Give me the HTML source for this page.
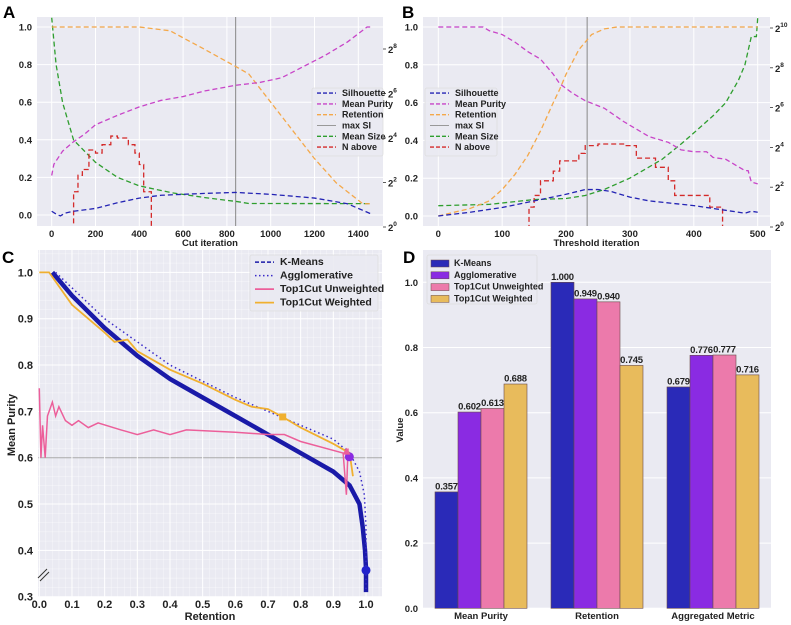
<!DOCTYPE html>
<html><head><meta charset="utf-8">
<style>
html,body{margin:0;padding:0;background:#fff;}
svg{display:block;font-family:"Liberation Sans",sans-serif;}
.tk{font-size:9.5px;font-weight:bold;fill:#222;}
.tkc{font-size:11px;font-weight:bold;fill:#222;}
.lg{font-size:9px;font-weight:bold;fill:#222;}
.lgc{font-size:10.5px;font-weight:bold;fill:#222;}
.pl{font-size:17px;font-weight:bold;fill:#000;}
</style></head>
<body>
<svg id="chart" width="791" height="625" viewBox="0 0 791 625" xmlns="http://www.w3.org/2000/svg">
<defs>
<clipPath id="clipA"><rect x="37" y="17" width="346" height="209"/></clipPath>
<clipPath id="clipB"><rect x="423" y="17" width="347" height="209"/></clipPath>
<clipPath id="clipC"><rect x="38" y="250" width="344" height="347"/></clipPath>
</defs>
</svg>
<script>
// ---------- Panel A data ----------
const aSilX=[0,20,40,60,100,200,300,400,500,600,700,840,1000,1200,1350,1460];
const aSilY=[0.02,0.005,-0.005,0.01,0.02,0.035,0.065,0.09,0.105,0.11,0.115,0.12,0.11,0.09,0.06,0.005];
const aPurX=[0,10,50,100,150,200,300,400,500,600,700,840,950,1050,1150,1250,1350,1440,1460];
const aPurY=[0.21,0.27,0.34,0.39,0.43,0.48,0.53,0.575,0.61,0.63,0.66,0.69,0.705,0.73,0.79,0.85,0.92,1.0,1.0];
const aRetX=[0,400,540,700,840,900,1000,1100,1200,1300,1420,1460];
const aRetY=[1.0,1.0,0.98,0.88,0.79,0.75,0.6,0.45,0.3,0.17,0.06,0.06];
const aSizeX=[0,20,50,100,200,300,400,550,700,850,900,1460];
const aSizeY=[680,158,48,15,7.5,4.7,3.6,2.9,2.5,2.2,2.08,2.07];
const aNX=[80,90,100,120,140,170,200,230,270,300,350,380,400,420,445,455];
const aNY=[1,1,3,5,6,11,10,13,17,16,13,10,7,3,3,1];
const aMaxSI=840;
const aXTicks=[0,200,400,600,800,1000,1200,1400];
const aYTicks=[0,0.2,0.4,0.6,0.8,1.0];
const aRTicks=[0,2,4,6,8];
// ---------- Panel B data ----------
const bSilX=[0,50,100,150,200,230,250,270,300,330,400,450,480,490,500];
const bSilY=[0,0.02,0.045,0.08,0.115,0.14,0.14,0.13,0.1,0.08,0.055,0.03,0.015,0.025,0.02];
const bPurX=[0,70,80,100,120,140,160,180,190,210,230,260,290,310,330,360,380,400,420,430,450,470,480,485,490,500];
const bPurY=[1.0,1.0,0.98,0.96,0.92,0.87,0.83,0.75,0.7,0.65,0.61,0.57,0.5,0.46,0.42,0.39,0.35,0.34,0.34,0.31,0.3,0.26,0.24,0.24,0.18,0.17];
const bRetX=[0,50,80,100,120,140,160,180,190,200,220,240,260,280,500];
const bRetY=[0,0.04,0.08,0.14,0.22,0.32,0.45,0.6,0.67,0.75,0.88,0.96,0.99,1.0,1.0];
const bSizeX=[0,80,150,200,230,260,300,350,380,400,430,450,470,480,490,498,500];
const bSizeY=[2.1,2.2,2.6,2.7,3.0,3.7,5.5,10.5,18,26.5,48,76,167,284,760,760,1450];
const bNX=[100,140,142,150,160,180,190,200,220,230,250,270,290,310,330,340,360,370,420,425,440,445,460];
const bNY=[1,1,2,3,5,7,10,10,13,17,18,18,17,11,11,8,5,3,3,2,2,1,1];
const bMaxSI=233;
const bXTicks=[0,100,200,300,400,500];
const bYTicks=[0,0.2,0.4,0.6,0.8,1.0];
const bRTicks=[0,2,4,6,8,10];
// ---------- Panel C data ----------
const cKmX=[0.04,0.1,0.2,0.3,0.4,0.5,0.6,0.7,0.8,0.9,0.95,0.98,0.99,0.997,1.0,1.0];
const cKmY=[1.0,0.95,0.88,0.82,0.77,0.73,0.69,0.65,0.61,0.57,0.54,0.5,0.45,0.4,0.36,0.31];
const cAgX=[0.05,0.2,0.4,0.6,0.8,0.9,0.95,0.98,0.995,1.0,1.0];
const cAgY=[1.0,0.9,0.8,0.73,0.67,0.64,0.61,0.57,0.52,0.45,0.31];
const cUwX=[0,0.005,0.01,0.018,0.025,0.04,0.05,0.06,0.08,0.1,0.12,0.15,0.18,0.25,0.3,0.35,0.4,0.45,0.6,0.7,0.75,0.8,0.93,0.94,0.945];
const cUwY=[0.75,0.6,0.67,0.6,0.69,0.72,0.69,0.71,0.68,0.67,0.68,0.665,0.675,0.66,0.65,0.66,0.65,0.66,0.655,0.65,0.65,0.635,0.61,0.52,0.62];
const cWX=[0,0.03,0.05,0.1,0.15,0.2,0.23,0.27,0.3,0.4,0.5,0.6,0.65,0.7,0.745,0.8,0.9,0.95,0.96];
const cWY=[1.0,1.0,0.98,0.93,0.9,0.87,0.85,0.855,0.83,0.79,0.76,0.725,0.71,0.705,0.688,0.665,0.63,0.61,0.56];
const cMarkX=[1.0,0.949,0.94,0.745];
const cMarkY=[0.357,0.602,0.613,0.688];
const cXTicks=[0,0.1,0.2,0.3,0.4,0.5,0.6,0.7,0.8,0.9,1.0];
const cYTicks=[0.3,0.4,0.5,0.6,0.7,0.8,0.9,1.0];
// ---------- Panel D data ----------
const dGroups=["Mean Purity","Retention","Aggregated Metric"];
const dMethods=["K-Means","Agglomerative","Top1Cut Unweighted","Top1Cut Weighted"];
const dKm=[0.357,1.000,0.679];
const dAg=[0.602,0.949,0.776];
const dUw=[0.613,0.940,0.777];
const dW=[0.688,0.745,0.716];
const dYTicks=[0,0.2,0.4,0.6,0.8,1.0];

const NS="http://www.w3.org/2000/svg";
const svg=document.getElementById('chart');
function mk(tag,attrs,parent){const e=document.createElementNS(NS,tag);for(const k in attrs)e.setAttribute(k,attrs[k]);(parent||svg).appendChild(e);return e;}
function pathD(xs,ys,fx,fy,step){let d="";for(let i=0;i<xs.length;i++){const X=fx(xs[i]),Y=fy(ys[i]);if(i===0)d+="M"+X+","+Y;else{if(step)d+="H"+X+"V"+Y;else d+="L"+X+","+Y;}}return d;}

const BG="#eaeaf2";
const cBlue="#2424b4",cMag="#c845c8",cOr="#f4a84a",cGreen="#2e9e2e",cRed="#d42a2a",cGrey="#888";

const xA=v=>51.7+v*0.2190, yA=v=>215-v*188, yAr=s=>227-Math.log2(s)*22.25;
const xB=v=>438.3+v*0.6388, yB=v=>216-v*189, yBr=s=>227-Math.log2(s)*19.9;
const xC=v=>39.3+v*326.7, yC=v=>596.7-(v-0.3)*463.3;
const yD=v=>608.3-v*326;

function lineLegend(x,y,w,h,items,cls,rowH,panel){
  const g=mk('g',{});
  
  
  const r=mk('rect',{x:x,y:y,width:w,height:h,fill:BG,stroke:"#ddd","stroke-width":0.8,rx:2,opacity:0.9},g);
  
  
  items.forEach((it,i)=>{
    const yy=y+rowH*0.75+i*rowH;
    const ln=mk('line',{x1:x+5,x2:x+24,y1:yy-3,y2:yy-3,stroke:it.c,"stroke-width":it.w||1.4,"stroke-dasharray":it.d||"none"},g);
    
    
    const t=mk('text',{x:x+30,y:yy,class:cls},g);t.textContent=it.n;
    
    
  });
}
function drawTS(p){
  const g=mk('g',{});
  
  
  const bg=mk('rect',{x:p.rx,y:p.ry,width:p.rw,height:p.rh,fill:BG},g);
  
  
  p.yT.forEach(v=>{
    const l=mk('line',{x1:p.rx,x2:p.rx+p.rw,y1:p.fy(v),y2:p.fy(v),stroke:"#fff","stroke-width":1},g);
    
    
    const t=mk('text',{x:p.rx-5,y:p.fy(v)+3.5,"text-anchor":"end",class:"tk"},g);t.textContent=v.toFixed(1);
    
    
  });
  p.xT.forEach(v=>{
    const l=mk('line',{x1:p.fx(v),x2:p.fx(v),y1:p.ry,y2:p.ry+p.rh,stroke:"#fff","stroke-width":1},g);
    
    
    const t=mk('text',{x:p.fx(v),y:p.ry+p.rh+11,"text-anchor":"middle",class:"tk"},g);t.textContent=String(v);
    
    
  });
  p.rT.forEach(e=>{
    const yy=p.fr(Math.pow(2,e));
    const tk=mk('line',{x1:p.rx+p.rw,x2:p.rx+p.rw+3,y1:yy,y2:yy,stroke:"#333","stroke-width":0.8},g);
    
    
    const t=mk('text',{x:p.rx+p.rw+5,y:yy+4,class:"tk"},g);t.textContent="2";
    
    
    const s=mk('tspan',{dy:-5,"font-size":"6.5px"},t);s.textContent=String(e);
  });
  const xl=mk('text',{x:p.rx+p.rw/2,y:p.ry+p.rh+20,"text-anchor":"middle",class:"tk","font-size":"10.5px"},g);xl.textContent=p.xl;
  
  
  const cg=mk('g',{"clip-path":"url(#"+p.clip+")",fill:"none"},g);
  const vl=mk('line',{x1:p.fx(p.maxSI),x2:p.fx(p.maxSI),y1:p.ry,y2:p.ry+p.rh,stroke:cGrey,"stroke-width":1},cg);
  
  
  const series=[
    ['mean-size-line',p.sizeX,p.sizeY,p.fr,cGreen,false],
    ['n-above-line',p.nX,p.nY,p.fr,cRed,true],
    ['retention-line',p.retX,p.retY,p.fy,cOr,false],
    ['mean-purity-line',p.purX,p.purY,p.fy,cMag,false],
    ['silhouette-line',p.silX,p.silY,p.fy,cBlue,false]];
  series.forEach(s=>{
    const pa=mk('path',{d:pathD(s[1],s[2],p.fx,s[3],s[5]),stroke:s[4],"stroke-width":1.3,"stroke-dasharray":"5,3",fill:"none"},cg);
    
    
  });
  lineLegend(p.lgx,88,p.lgw,68,[
    {n:"Silhouette",c:cBlue,d:"4,2"},{n:"Mean Purity",c:cMag,d:"4,2"},{n:"Retention",c:cOr,d:"4,2"},
    {n:"max SI",c:"#999",w:1},{n:"Mean Size",c:cGreen,d:"4,2"},{n:"N above",c:cRed,d:"4,2"}],"lg",10.8,'panel-'+p.id);
}
drawTS({id:'a',rx:37,ry:17,rw:346,rh:209,fx:xA,fy:yA,fr:yAr,xT:aXTicks,yT:aYTicks,rT:aRTicks,xl:"Cut iteration",clip:"clipA",
  maxSI:aMaxSI,silX:aSilX,silY:aSilY,purX:aPurX,purY:aPurY,retX:aRetX,retY:aRetY,sizeX:aSizeX,sizeY:aSizeY,nX:aNX,nY:aNY,lgx:312,lgw:71});
drawTS({id:'b',rx:423,ry:17,rw:347,rh:209,fx:xB,fy:yB,fr:yBr,xT:bXTicks,yT:bYTicks,rT:bRTicks,xl:"Threshold iteration",clip:"clipB",
  maxSI:bMaxSI,silX:bSilX,silY:bSilY,purX:bPurX,purY:bPurY,retX:bRetX,retY:bRetY,sizeX:bSizeX,sizeY:bSizeY,nX:bNX,nY:bNY,lgx:425,lgw:72});

(function(){
  const g=mk('g',{});
  
  
  const bg=mk('rect',{x:38,y:250,width:344,height:347,fill:BG},g);
  
  
  for(let v=0;v<=1.05;v+=0.02){
    const l=mk('line',{x1:xC(v),x2:xC(v),y1:250,y2:597,stroke:"#fff","stroke-width":0.5,opacity:0.6},g);
    
    
  }
  for(let v=0.3;v<=1.05;v+=0.02){
    const l=mk('line',{x1:38,x2:382,y1:yC(v),y2:yC(v),stroke:"#fff","stroke-width":0.5,opacity:0.6},g);
    
    
  }
  cYTicks.forEach(v=>{
    const l=mk('line',{x1:38,x2:382,y1:yC(v),y2:yC(v),stroke:(Math.abs(v-0.6)<1e-6?"#aaa":"#fff"),"stroke-width":1},g);
    
    
    const t=mk('text',{x:33,y:yC(v)+4,"text-anchor":"end",class:"tkc"},g);t.textContent=v.toFixed(1);
    
    
  });
  cXTicks.forEach(v=>{
    const l=mk('line',{x1:xC(v),x2:xC(v),y1:250,y2:597,stroke:"#fff","stroke-width":1},g);
    
    
    const t=mk('text',{x:xC(v),y:608,"text-anchor":"middle",class:"tkc"},g);t.textContent=v.toFixed(1);
    
    
  });
  const br=mk('path',{d:"M38,578 L47,569 M40,581 L49,572",stroke:"#333","stroke-width":1},g);
  
  
  const xl=mk('text',{x:210,y:620,"text-anchor":"middle",class:"tkc","font-size":"12px"},g);xl.textContent="Retention";
  
  
  const yl=mk('text',{x:15,y:425,"text-anchor":"middle",class:"tkc","font-size":"12px",transform:"rotate(-90 15 425)"},g);yl.textContent="Mean Purity";
  
  
  const cg=mk('g',{"clip-path":"url(#clipC)",fill:"none"},g);
  const km=mk('path',{d:pathD(cKmX,cKmY,xC,yC),stroke:"#1a1aa8","stroke-width":4.5,fill:"none","stroke-linejoin":"round"},cg);
  
  
  const ag=mk('path',{d:pathD(cAgX,cAgY,xC,yC),stroke:"#3a2ac8","stroke-width":1.5,"stroke-dasharray":"1.5,3",fill:"none"},cg);
  
  
  const uw=mk('path',{d:pathD(cUwX,cUwY,xC,yC),stroke:"#ec5f9a","stroke-width":1.5,fill:"none"},cg);
  
  
  const w=mk('path',{d:pathD(cWX,cWY,xC,yC),stroke:"#f0b030","stroke-width":1.8,fill:"none"},cg);
  
  
  const mcols=["#2222cc","#8a2be2","#ec5f9a","#f0b030"];
  cMarkX.forEach((v,i)=>{
    let m;
    if(i===3) m=mk('rect',{x:xC(v)-3.5,y:yC(cMarkY[i])-3.5,width:7,height:7,fill:mcols[i]},g);
    else if(i===2) m=mk('path',{d:"M"+(xC(v)-4)+","+(yC(cMarkY[i])+3)+"L"+xC(v)+","+(yC(cMarkY[i])-4)+"L"+(xC(v)+4)+","+(yC(cMarkY[i])+3)+"Z",fill:mcols[i]},g);
    else m=mk('circle',{cx:xC(v),cy:yC(cMarkY[i]),r:4.5,fill:mcols[i]},g);
    
    
  });
  lineLegend(250,255,128,56,[
    {n:"K-Means",c:"#1a1aa8",d:"4,2"},{n:"Agglomerative",c:"#3a2ac8",d:"1.5,2.5",w:1.6},
    {n:"Top1Cut Unweighted",c:"#ec5f9a",w:1.8},{n:"Top1Cut Weighted",c:"#f0b030",w:1.8}],"lgc",13.5,'panel-c');
})();

(function(){
  const g=mk('g',{});
  
  
  const bg=mk('rect',{x:423,y:250,width:348,height:358,fill:BG},g);
  
  
  dYTicks.forEach(v=>{
    const l=mk('line',{x1:423,x2:771,y1:yD(v),y2:yD(v),stroke:"#fff","stroke-width":1},g);
    
    
    const t=mk('text',{x:418,y:yD(v)+3.5,"text-anchor":"end",class:"tk","font-size":"9px"},g);t.textContent=v.toFixed(1);
    
    
  });
  const yl=mk('text',{x:403,y:430,"text-anchor":"middle",class:"tk","font-size":"9px",transform:"rotate(-90 403 430)"},g);yl.textContent="Value";
  
  
  const series=[dKm,dAg,dUw,dW];
  const cols=["#2a2ab8","#8a2be2","#ec7aab","#e8bb5c"];
  const gx=i=>481+i*116;
  const bw=23;
  dGroups.forEach((name,gi)=>{
    const t=mk('text',{x:gx(gi),y:619,"text-anchor":"middle",class:"tk","font-size":"9.5px"},g);t.textContent=name;
    
    
    series.forEach((s,si)=>{
      const x=gx(gi)+(si-2)*bw;
      const b=mk('rect',{x:x,y:yD(s[gi]),width:bw,height:yD(0)-yD(s[gi]),fill:cols[si],stroke:"#6a4a4a","stroke-width":0.6},g);
      
      
      const vt=mk('text',{x:x+bw/2,y:yD(s[gi])-2.5,"text-anchor":"middle",class:"tk","font-size":"8.3px","letter-spacing":"-0.2"},g);vt.textContent=s[gi].toFixed(3);
      
      
    });
  });
  const lg=mk('g',{});
  
  
  const lr=mk('rect',{x:427,y:255,width:110,height:49,fill:BG,stroke:"#ddd","stroke-width":0.8,rx:2},lg);
  
  
  dMethods.forEach((m,i)=>{
    const yy=266+i*11.8;
    const sw=mk('rect',{x:431,y:yy-6,width:18,height:7,fill:cols[i],stroke:"#6a4a4a","stroke-width":0.5},lg);
    
    
    const t=mk('text',{x:454,y:yy,class:"lg"},lg);t.textContent=m;
    
    
  });
})();

[["A",3,18],["B",402,18],["C",2,263],["D",403,263]].forEach(l=>{
  const t=mk('text',{x:l[1],y:l[2],class:"pl"});t.textContent=l[0];
  
  
});
</script>
</body></html>
